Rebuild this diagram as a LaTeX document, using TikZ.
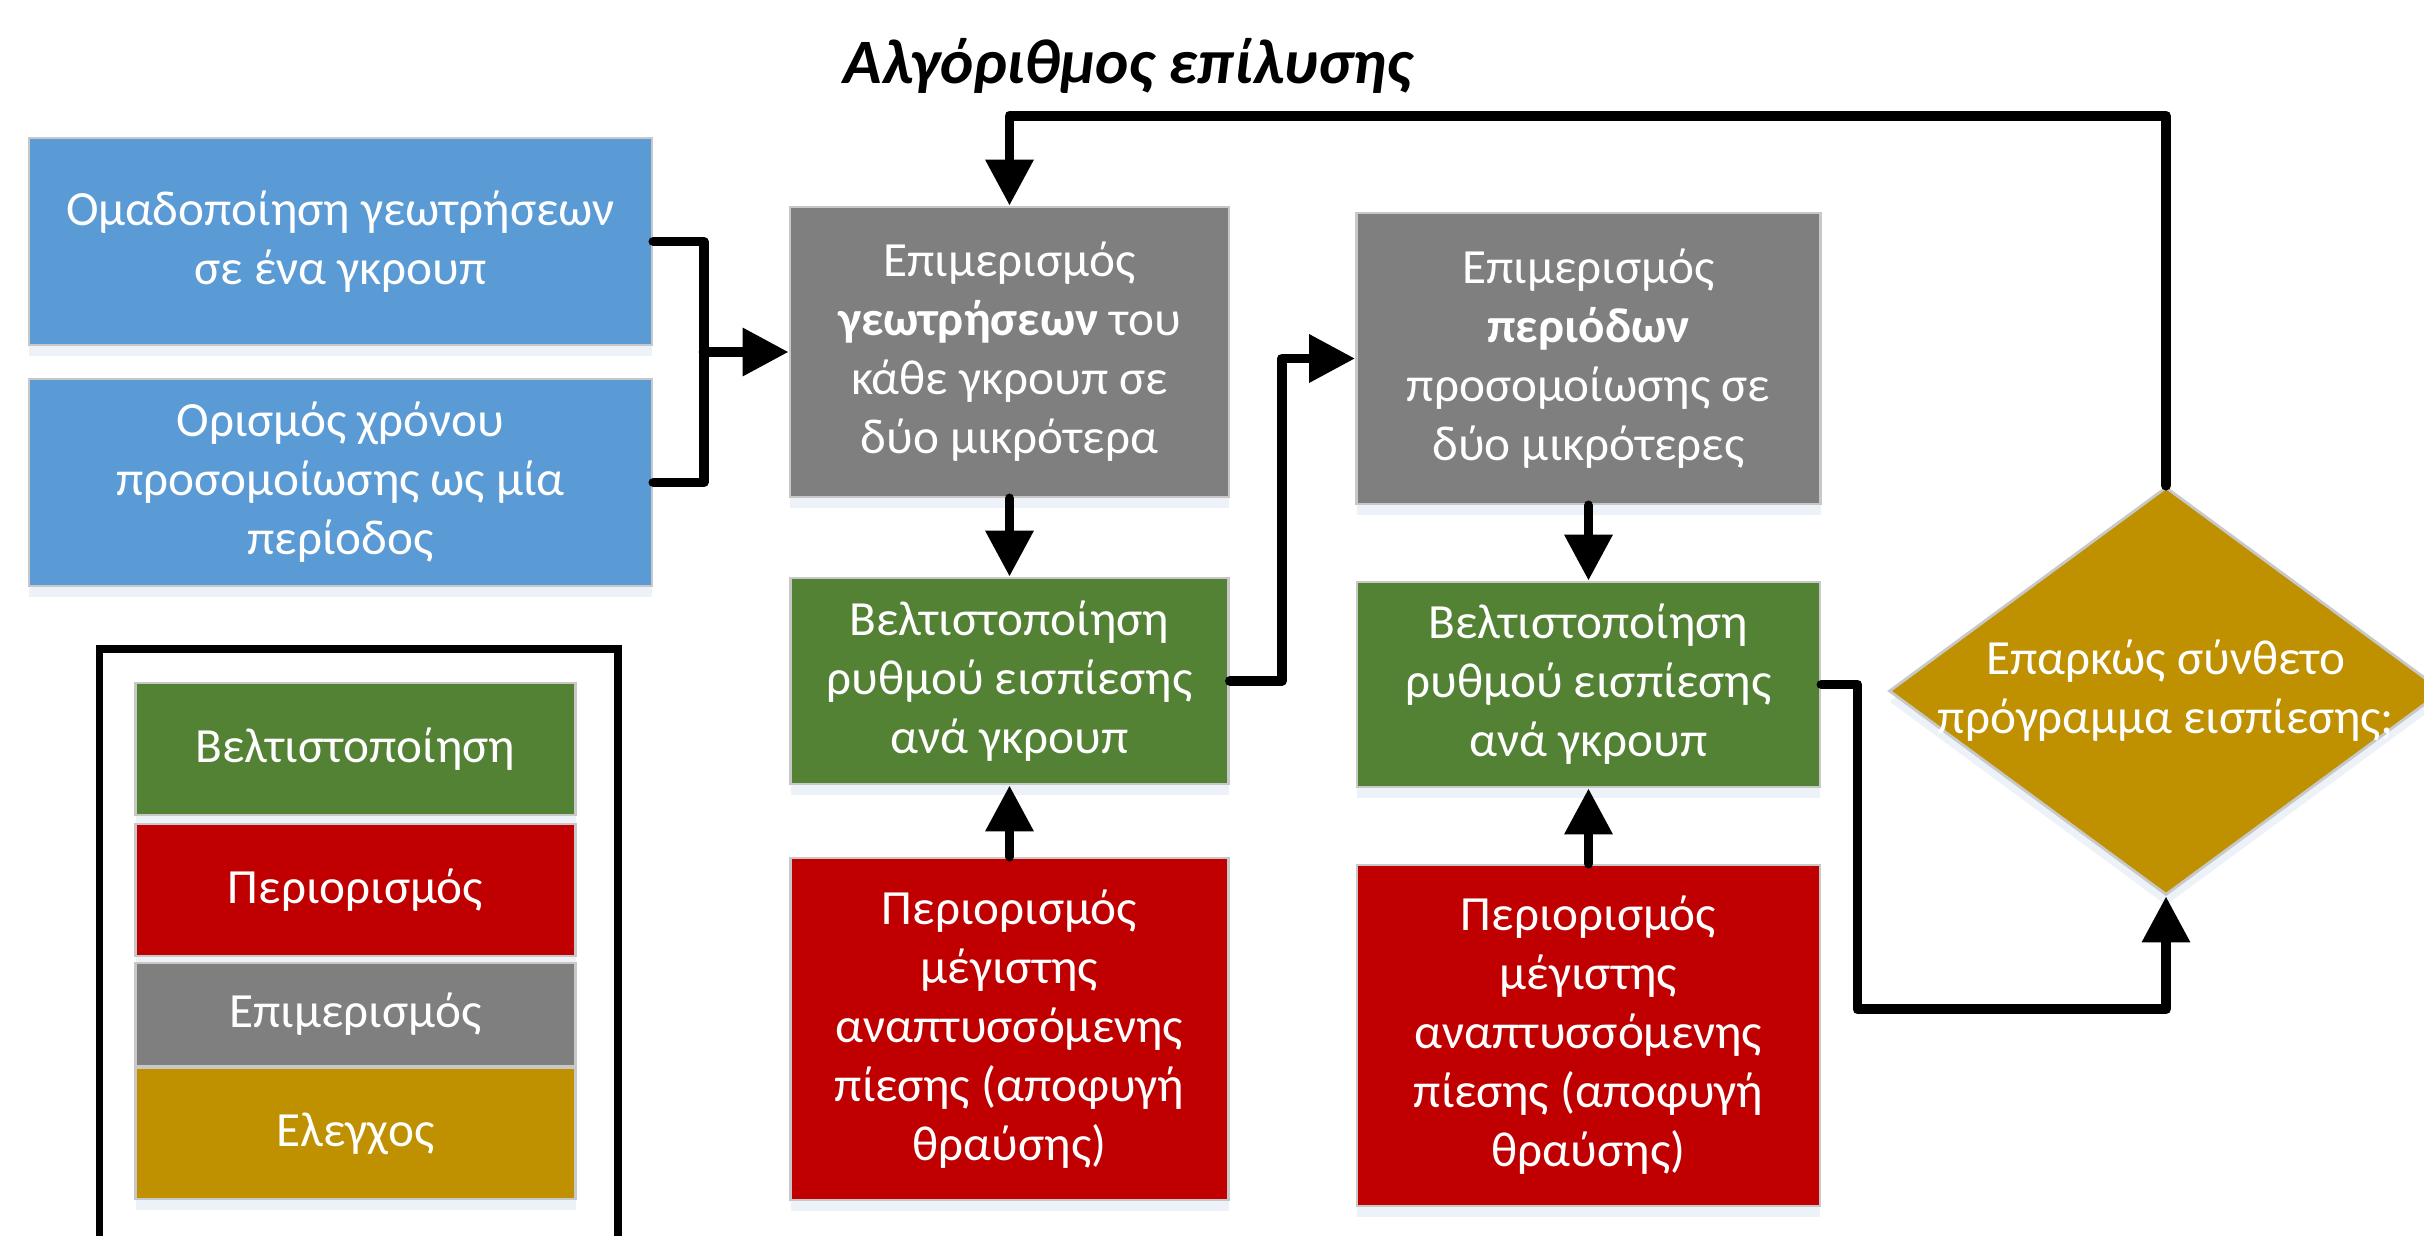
\documentclass[tikz,border=0pt]{standalone}
\usepackage{fontspec}
\setmainfont{Carlito}
\usetikzlibrary{arrows.meta,shapes.geometric,shadows}
\definecolor{mple}{RGB}{91,155,213}
\definecolor{gkri}{RGB}{127,127,127}
\definecolor{prasino}{RGB}{84,130,53}
\definecolor{kokkino}{RGB}{192,0,0}
\definecolor{xryso}{RGB}{191,144,0}
\definecolor{perigramma}{RGB}{200,200,200}
\definecolor{skia}{RGB}{196,212,236}

\begin{document}
\begin{tikzpicture}[
  kouti/.style={draw=perigramma, line width=0.8pt, text=white, align=center,
    inner sep=0pt, font=\fontsize{14}{16.8}\selectfont,
    drop shadow={shadow xshift=0pt, shadow yshift=-3pt, fill=skia, opacity=.3}},
  grammi/.style={line width=2.8pt, line join=round, line cap=round},
  belos/.style={grammi, -{Triangle[length=0.46cm,width=0.46cm]}},
]
\clip (0,0) rectangle (24.24,-12.35);
%% titlos
\node (titlos) at (11.28,-0.66) {\fontsize{18}{21}\selectfont\bfseries\itshape Αλγόριθμος επίλυσης};

%% arxika
\node[kouti, fill=mple, minimum width=6.23cm, minimum height=2.07cm] (omad) at (3.405,-2.415)
  {Ομαδοποίηση γεωτρήσεων\\σε ένα γκρουπ};
\node[kouti, fill=mple, minimum width=6.23cm, minimum height=2.07cm] (orism) at (3.405,-4.825)
  {Ορισμός χρόνου\\προσομοίωσης ως μία\\περίοδος};

%% stili 1
\node[kouti, fill=gkri, minimum width=4.39cm, minimum height=2.90cm] (epim1) at (10.095,-3.52)
  {Επιμερισμός\\\textbf{γεωτρήσεων} του\\κάθε γκρουπ σε\\δύο μικρότερα};
\node[kouti, fill=prasino, minimum width=4.38cm, minimum height=2.06cm] (belt1) at (10.095,-6.81)
  {Βελτιστοποίηση\\ρυθμού εισπίεσης\\ανά γκρουπ};
\node[kouti, fill=kokkino, minimum width=4.38cm, minimum height=3.42cm] (peri1) at (10.095,-10.29)
  {Περιορισμός\\μέγιστης\\αναπτυσσόμενης\\πίεσης (αποφυγή\\θραύσης)};

%% stili 2
\node[kouti, fill=gkri, minimum width=4.64cm, minimum height=2.91cm] (epim2) at (15.885,-3.585)
  {Επιμερισμός\\\textbf{περιόδων}\\προσομοίωσης σε\\δύο μικρότερες};
\node[kouti, fill=prasino, minimum width=4.63cm, minimum height=2.05cm] (belt2) at (15.885,-6.845)
  {Βελτιστοποίηση\\ρυθμού εισπίεσης\\ανά γκρουπ};
\node[kouti, fill=kokkino, minimum width=4.63cm, minimum height=3.41cm] (peri2) at (15.885,-10.355)
  {Περιορισμός\\μέγιστης\\αναπτυσσόμενης\\πίεσης (αποφυγή\\θραύσης)};

%% elegxos
\node[kouti, diamond, fill=xryso, minimum width=5.54cm, minimum height=4.08cm] (elegx) at (21.66,-6.91) {};
\node[text=white, align=center, font=\fontsize{14}{16.8}\selectfont] (elegxkeim) at (elegx.center)
  {Επαρκώς σύνθετο\\πρόγραμμα εισπίεσης;};

%% ypomnima
\draw[line width=2pt] (0.995,-6.49) rectangle (6.18,-12.8);
\node[kouti, fill=prasino, minimum width=4.40cm, minimum height=1.32cm] (ypbelt) at (3.555,-7.49) {Βελτιστοποίηση};
\node[kouti, fill=kokkino, minimum width=4.40cm, minimum height=1.32cm] (yperi) at (3.555,-8.90) {Περιορισμός};
\node[kouti, fill=gkri, minimum width=4.40cm, minimum height=1.03cm] (ypepim) at (3.555,-10.145) {Επιμερισμός};
\node[kouti, fill=xryso, minimum width=4.40cm, minimum height=1.31cm] (ypeleg) at (3.555,-11.335) {Ελεγχος};

%% syndeseis
\coordinate (agkyli) at ([xshift=-0.85cm]epim1.west);
\draw[grammi] (omad.east) -| (agkyli) |- (orism.east);
\draw[belos] (agkyli) -- (epim1.west);
\draw[belos] (epim1.south) -- (belt1.north);
\draw[belos] (peri1.north) -- (belt1.south);
\draw[belos] (belt1.east) -- ++(0.52,0) |- (epim2.west);
\draw[belos] (epim2.south) -- (belt2.north);
\draw[belos] (peri2.north) -- (belt2.south);
\coordinate (kato) at ([yshift=-1.13cm]elegx.south);
\draw[belos] (belt2.east) -- ++(0.36,0) |- (kato) -- (elegx.south);
\draw[belos] (elegx.north) |- ([yshift=0.9cm]epim1.north) -- (epim1.north);

\end{tikzpicture}
\end{document}
